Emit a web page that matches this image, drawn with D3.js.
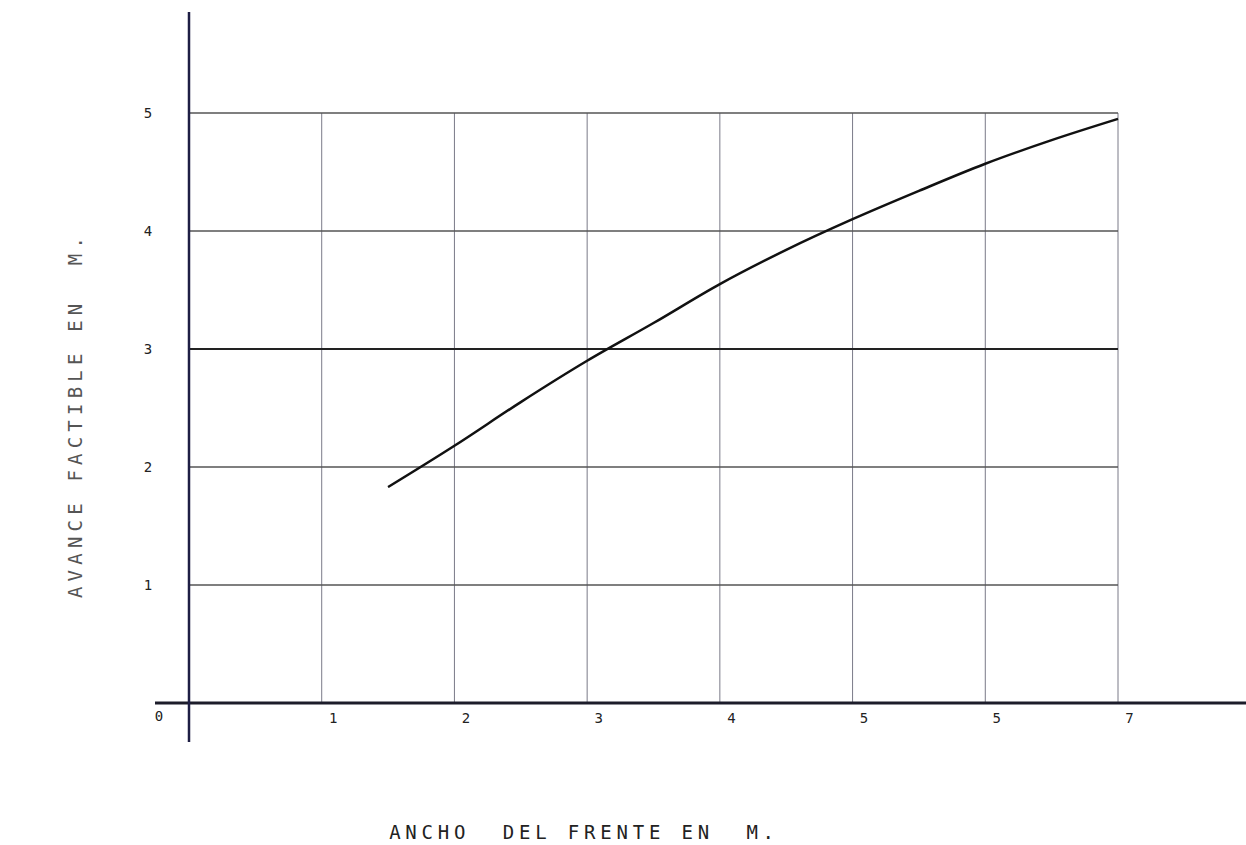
<!DOCTYPE html>
<html>
<head>
<meta charset="utf-8">
<script src="https://cdn.jsdelivr.net/npm/d3@7"></script>
<style>
  body { margin: 0; background: #fff; }
  svg { display: block; }
</style>
</head>
<body>
<div id="chart"></div>
<script>
// Avance factible vs ancho del frente
var anchoX = [1.5, 2, 2.5, 3, 3.5, 4, 4.5, 5, 5.5, 6, 6.5, 7];
var avanceY = [1.83, 2.18, 2.55, 2.9, 3.22, 3.55, 3.84, 4.1, 4.34, 4.57, 4.77, 4.95];
var xTicks = [1, 2, 3, 4, 5, 6, 7];
var xTickLabels = ["1", "2", "3", "4", "5", "5", "7"]; // como en el original escaneado
var yTicks = [1, 2, 3, 4, 5];

var width = 1246, height = 845;

var x = d3.scaleLinear().domain([0, 7]).range([189, 1118]);
var y = d3.scaleLinear().domain([0, 5]).range([703, 113]);

var svg = d3.select("#chart").append("svg")
    .attr("width", width)
    .attr("height", height);

// rejilla
svg.append("g")
    .selectAll("line")
    .data(xTicks)
    .enter()
    .append("line")
      .attr("x1", function(d) { return x(d); })
      .attr("x2", function(d) { return x(d); })
      .attr("y1", y(5))
      .attr("y2", y(0))
      .style("stroke", "#7a7a88")
      .style("stroke-width", "1px");

svg.append("g")
    .selectAll("line")
    .data(yTicks)
    .enter()
    .append("line")
      .attr("x1", x(0))
      .attr("x2", x(7))
      .attr("y1", function(d) { return y(d); })
      .attr("y2", function(d) { return y(d); })
      .style("stroke", function(d) { return d == 3 ? "#222" : "#555"; })
      .style("stroke-width", function(d) { return d == 3 ? "1.8px" : "1.3px"; });

// ejes
svg.append("line")
    .attr("x1", 155).attr("x2", width)
    .attr("y1", y(0)).attr("y2", y(0))
    .style("stroke", "#1c1c2a")
    .style("stroke-width", "3px");

svg.append("line")
    .attr("x1", x(0)).attr("x2", x(0))
    .attr("y1", 12).attr("y2", 742)
    .style("stroke", "#1e1e44")
    .style("stroke-width", "2.5px");

// etiquetas de los ejes (numeros)
var xAxis = d3.axisBottom(x)
    .tickValues(xTicks)
    .tickSize(0)
    .tickFormat(function(d, i) { return xTickLabels[i]; });

var gx = svg.append("g")
    .attr("transform", "translate(0," + (y(0) + 7) + ")")
    .call(xAxis);
gx.select(".domain").remove();
gx.selectAll("text")
    .attr("dx", 11)
    .style("font-family", "'DejaVu Sans Mono', monospace")
    .style("font-size", "14px")
    .style("fill", "#222");

svg.append("text")
    .attr("x", 159)
    .attr("y", 721)
    .attr("text-anchor", "middle")
    .style("font-family", "'DejaVu Sans Mono', monospace")
    .style("font-size", "14px")
    .style("fill", "#222")
    .text("0");

var yAxis = d3.axisLeft(y)
    .tickValues(yTicks)
    .tickSize(0)
    .tickFormat(d3.format("d"));

var gy = svg.append("g")
    .attr("transform", "translate(" + (x(0) - 38) + ",0)")
    .call(yAxis);
gy.select(".domain").remove();
gy.selectAll("text")
    .attr("text-anchor", "middle")
    .style("font-family", "'DejaVu Sans Mono', monospace")
    .style("font-size", "14px")
    .style("fill", "#222");

// curva
var line = d3.line()
    .x(function(d) { return x(d[0]); })
    .y(function(d) { return y(d[1]); })
    .curve(d3.curveMonotoneX);

svg.append("path")
    .datum(d3.zip(anchoX, avanceY))
    .attr("d", line)
    .style("fill", "none")
    .style("stroke", "#111")
    .style("stroke-width", "2.5px");

// titulos
svg.append("text")
    .attr("x", 584)
    .attr("y", 839)
    .attr("text-anchor", "middle")
    .attr("xml:space", "preserve")
    .style("white-space", "pre")
    .style("font-family", "'DejaVu Sans Mono', monospace")
    .style("font-size", "19px")
    .style("letter-spacing", "4.8px")
    .style("fill", "#222")
    .text("ANCHO  DEL FRENTE EN  M.");

svg.append("text")
    .attr("transform", "translate(82,415) rotate(-90)")
    .attr("text-anchor", "middle")
    .attr("xml:space", "preserve")
    .style("white-space", "pre")
    .style("font-family", "'DejaVu Sans Mono', monospace")
    .style("font-size", "19px")
    .style("letter-spacing", "5.2px")
    .style("fill", "#555")
    .text("AVANCE FACTIBLE EN  M.");
</script>
</body>
</html>
